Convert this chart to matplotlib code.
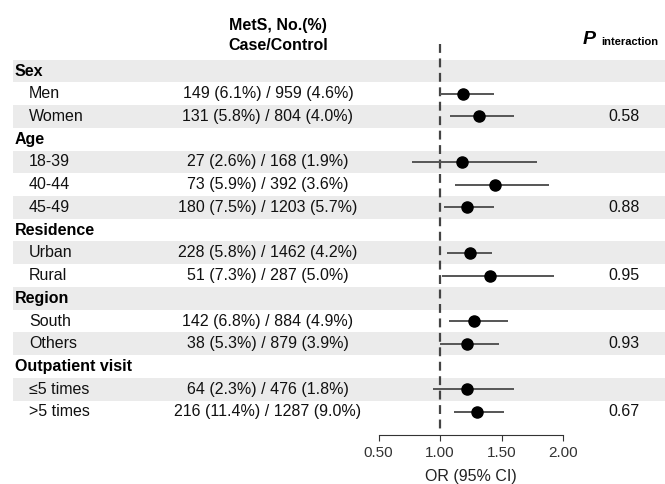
import matplotlib.pyplot as plt

plt.rcParams['font.family'] = ['Liberation Sans', 'DejaVu Sans']

# Rows of the table (group headers have no values)
labels = ['Sex', 'Men', 'Women', 'Age', '18-39', '40-44', '45-49',
          'Residence', 'Urban', 'Rural', 'Region', 'South', 'Others',
          'Outpatient visit', '\u22645 times', '>5 times']
isHeader = [True, False, False, True, False, False, False,
            True, False, False, True, False, False, True, False, False]
counts = ['', '149 (6.1%) / 959 (4.6%)', '131 (5.8%) / 804 (4.0%)',
          '', '27 (2.6%) / 168 (1.9%)', '73 (5.9%) / 392 (3.6%)', '180 (7.5%) / 1203 (5.7%)',
          '', '228 (5.8%) / 1462 (4.2%)', '51 (7.3%) / 287 (5.0%)',
          '', '142 (6.8%) / 884 (4.9%)', '38 (5.3%) / 879 (3.9%)',
          '', '64 (2.3%) / 476 (1.8%)', '216 (11.4%) / 1287 (9.0%)']
orValues = [None, 1.19, 1.32, None, 1.18, 1.45, 1.22, None, 1.24, 1.41,
            None, 1.28, 1.22, None, 1.22, 1.30]
ciLow = [None, 1.00, 1.08, None, 0.77, 1.12, 1.03, None, 1.06, 1.02,
         None, 1.07, 1.00, None, 0.94, 1.11]
ciHigh = [None, 1.44, 1.60, None, 1.79, 1.89, 1.44, None, 1.42, 1.93,
          None, 1.55, 1.48, None, 1.60, 1.52]
pInteraction = ['', '', '0.58', '', '', '', '0.88', '', '', '0.95',
                '', '', '0.93', '', '', '0.67']
xTicks = [0.5, 1.0, 1.5, 2.0]
xTickLabels = ['0.50', '1.00', '1.50', '2.00']

W, H = 665, 484
fig = plt.figure(figsize=(W / 100, H / 100), dpi=100)
ax = fig.add_axes([0, 0, 1, 1])

# pixel -> data helpers (1.00 sits at x=440px, 123 px per OR unit, rows 22.73 px apart)
def px(x):
    return 1 + (x - 440) / 123

def py(y):
    return (y - 71) / 22.73

ax.set_xlim(px(0), px(W))
ax.set_ylim(py(H), py(0))

fs = 11.5
for i, lab in enumerate(labels):
    if i % 2 == 0:
        ax.axhspan(i - 0.5, i + 0.5, xmin=13 / W, xmax=1, color='#EBEBEB', lw=0, zorder=0)
    if isHeader[i]:
        ax.text(px(15), i, lab, fontsize=fs, fontweight='bold', va='center', ha='left')
    else:
        ax.text(px(29), i, lab, fontsize=fs, va='center', ha='left', color='#111111')
        ax.text(px(268), i, counts[i], fontsize=fs, va='center', ha='center', color='#111111')
        ax.hlines(i, ciLow[i], ciHigh[i], color='#555555', lw=1.4, zorder=2)
        ax.plot(orValues[i], i, 'o', color='black', ms=8, zorder=3)
    if pInteraction[i]:
        ax.text(px(624), i, pInteraction[i], fontsize=fs, va='center', ha='center', color='#111111')

# reference line at OR = 1
ax.vlines(1.0, py(44), py(432), colors='#444444', linestyles=(0, (4, 2.5)), lw=1.6, zorder=1)

# headers
ax.text(px(278), py(25), 'MetS, No.(%)', fontsize=fs, fontweight='bold', ha='center', va='center')
ax.text(px(278), py(45), 'Case/Control', fontsize=fs, fontweight='bold', ha='center', va='center')
ax.text(px(583), py(39), 'P', fontsize=14, fontweight='bold', style='italic', ha='left', va='center')
ax.text(px(601), py(42), 'interaction', fontsize=8, fontweight='bold', ha='left', va='center')

# x axis
for s in ['top', 'left', 'right']:
    ax.spines[s].set_visible(False)
ax.spines['bottom'].set_position(('data', py(435)))
ax.spines['bottom'].set_bounds(xTicks[0], xTicks[-1])
ax.spines['bottom'].set_color('#333333')
ax.set_xticks(xTicks)
ax.set_xticklabels(xTickLabels, fontsize=11, color='#333333')
ax.tick_params(axis='x', length=4, color='#333333', pad=4)
ax.set_yticks([])
ax.text(px(471), py(476), 'OR (95% CI)', fontsize=fs, ha='center', va='center', color='#222222')

fig.savefig('out.png', dpi=100)
